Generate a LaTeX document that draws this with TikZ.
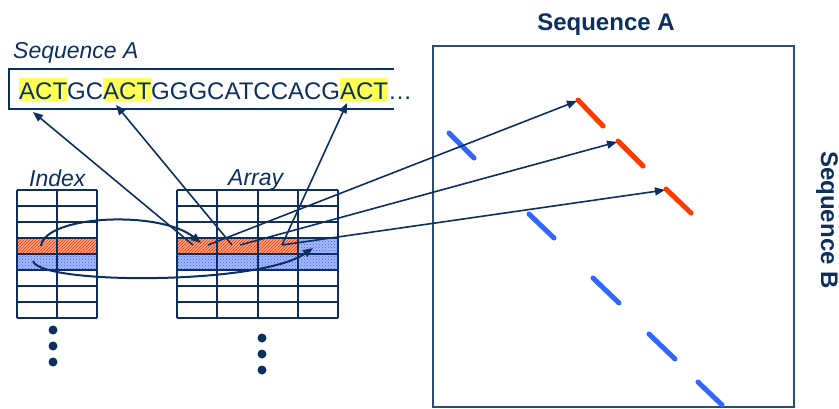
\documentclass[tikz,border=0pt]{standalone}
\usepackage{fontspec}
\setmainfont{Liberation Sans}
\usetikzlibrary{arrows.meta,patterns}
\definecolor{navy}{HTML}{0B2F5E}
\definecolor{segred}{HTML}{FF3B00}
\definecolor{segblue}{HTML}{3366FF}
\definecolor{hl}{HTML}{FFFF55}
\definecolor{boxline}{HTML}{2A4E7A}
\definecolor{orfill}{HTML}{FFA488}
\definecolor{blfill}{HTML}{A8B8FF}
\newcommand\hlbox[1]{\setbox0\hbox{#1}\rlap{\color{hl}\rule[-2pt]{\wd0}{23pt}}\box0}
\begin{document}
\begin{tikzpicture}[x=1pt,y=-1pt,
  gridline/.style={navy, line width=1.4pt},
  arr/.style={navy, line width=1.6pt, -{Triangle[length=10pt,width=8pt]}},
  curvarr/.style={navy, line width=2pt, -{Triangle[length=10pt,width=8pt]}},
  redseg/.style={segred, line width=5pt, line cap=round},
  blueseg/.style={segblue, line width=5pt, line cap=round},
  lbl/.style={navy, font=\fontsize{23}{27}\selectfont\itshape, inner sep=0pt},
  ttl/.style={navy, font=\fontsize{24}{28}\selectfont\bfseries, inner sep=0pt},
  dot/.style={circle, fill=navy, minimum size=9pt, inner sep=0pt}]
\useasboundingbox (0,0) rectangle (839,408);

% ---- Sequence A strip ----
\node[lbl, anchor=base west] (seqlbl) at (13,58) {Sequence A};
\draw[navy, line width=1.4pt] (394,69) -- (9,69) -- (9,109) -- (394,109);
\node[navy, anchor=base west, inner sep=0pt, font=\fontsize{24}{28}\selectfont] (seqtext) at (19,99)
  {\hlbox{ACT}GC\hlbox{ACT}GGGCATCCACG\hlbox{ACT}…};

% ---- Index table ----
\node[lbl, anchor=base west] (idxlbl) at (29,186) {Index};
\fill[orfill] (17,238) rectangle (97,254);
\fill[pattern=north east lines, pattern color=segred] (17,238) rectangle (97,254);
\fill[blfill] (17,254) rectangle (97,270);
\fill[pattern=crosshatch dots, pattern color=segblue] (17,254) rectangle (97,270);
\foreach \yy in {190,206,...,318} \draw[gridline] (17,\yy) -- (97,\yy);
\foreach \xx in {17,57,97} \draw[gridline] (\xx,190) -- (\xx,318);
\node[dot] (id1) at (53,330) {};
\node[dot] (id2) at (53,346) {};
\node[dot] (id3) at (53,362) {};

% ---- Array table ----
\node[lbl, anchor=base west] (arrlbl) at (228,185) {Array};
\fill[orfill] (177,238) rectangle (298,254);
\fill[pattern=north east lines, pattern color=segred] (177,238) rectangle (298,254);
\fill[blfill] (298,238) rectangle (338,254);
\fill[pattern=crosshatch dots, pattern color=segblue] (298,238) rectangle (338,254);
\fill[blfill] (177,254) rectangle (338,270);
\fill[pattern=crosshatch dots, pattern color=segblue] (177,254) rectangle (338,270);
\foreach \yy in {190,206,...,318} \draw[gridline] (177,\yy) -- (338,\yy);
\foreach \xx in {177,217,258,298,338} \draw[gridline] (\xx,190) -- (\xx,318);
\node[dot] (ad1) at (262,338) {};
\node[dot] (ad2) at (262,354) {};
\node[dot] (ad3) at (262,370) {};

% ---- Dot plot ----
\node[ttl, anchor=base] (ttlA) at (606,30) {Sequence A};
\node[ttl, anchor=base, rotate=-90] (ttlB) at (821,220) {Sequence B};
\draw[boxline, line width=1.3pt] (433,46) rectangle (794,407);
\draw[blueseg] (449,133) -- (474,158);
\draw[blueseg] (529,214) -- (554,238);
\draw[blueseg] (593,278) -- (619,303);
\draw[blueseg] (649,334) -- (675,359);
\draw[blueseg] (698,382) -- (722,405);
\draw[redseg] (578,100) -- (603,126);
\draw[redseg] (618,141) -- (643,166);
\draw[redseg] (666,189) -- (691,213);

% ---- connector coordinates ----
\coordinate (t1) at (193,245);
\coordinate (t2) at (232,245);
\coordinate (t3) at (282,245);
\coordinate (t4) at (208,245);
\coordinate (t5) at (240,245);
\coordinate (h1) at (33,112);
\coordinate (h2) at (116,105);
\coordinate (h3) at (347,103);
\coordinate (r1) at (577,101);
\coordinate (r2) at (617,142);
\coordinate (r3) at (665,190);
\coordinate (io) at (41,246);
\coordinate (ao) at (201,243);
\coordinate (ib) at (33,261);
\coordinate (ab) at (313,248);

\draw[arr] (t1) -- (h1);
\draw[arr] (t2) -- (h2);
\draw[arr] (t3) -- (h3);
\draw[arr] (t4) -- (r1);
\draw[arr] (t5) -- (r2);
\draw[arr] (t3) -- (r3);
\draw[curvarr] (io) .. controls (45,215) and (160,210) .. (ao);
\draw[curvarr] (ib) .. controls (40,285) and (260,285) .. (ab);
\end{tikzpicture}
\end{document}
